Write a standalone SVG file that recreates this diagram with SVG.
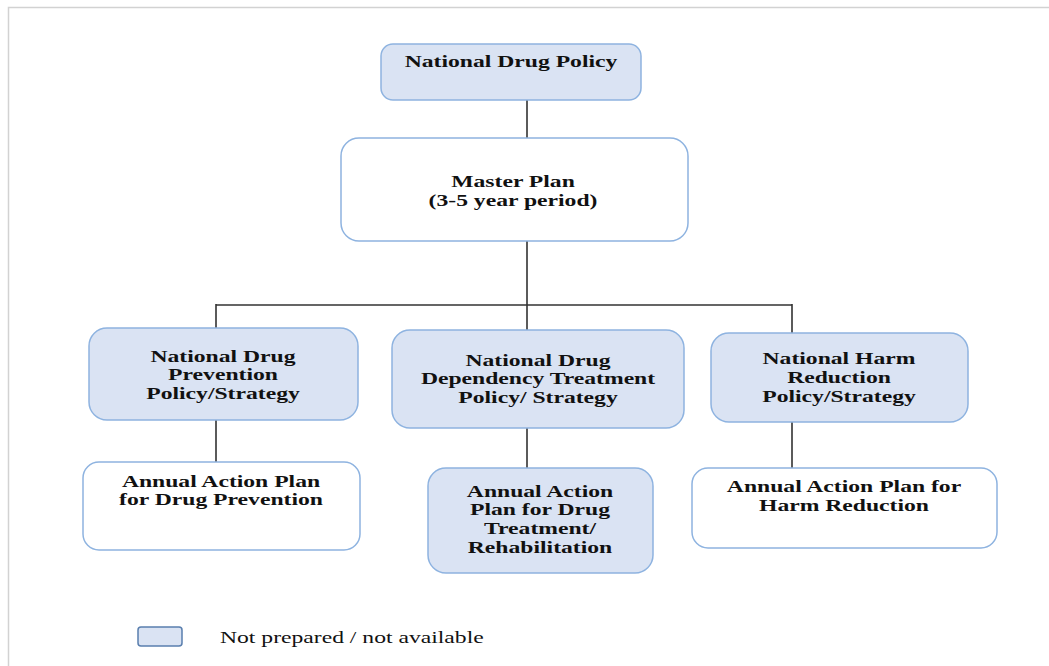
<svg xmlns="http://www.w3.org/2000/svg" width="1049" height="666" viewBox="0 0 1049 666">
<style>
.bl{fill:#dae3f3;stroke:#8eb3e0;stroke-width:1.5}
.wh{fill:#ffffff;stroke:#8eb3e0;stroke-width:1.5}
.t{font-family:"Liberation Serif","Times New Roman",serif;font-size:17px;font-weight:bold;fill:#111;text-anchor:middle}
.lg{font-family:"Liberation Serif","Times New Roman",serif;font-size:17px;fill:#111}
.c{stroke:#333;stroke-width:1.6;fill:none}
.fr{stroke:#d2d2d2;stroke-width:1.5;fill:none}
</style>
<rect width="1049" height="666" fill="#fff"/>
<path class="fr" d="M8.5,666 V7.5 H1049"/>
<g id="connectors">
<path class="c" d="M527,100 V138 M527,241 V330 M216,305 H792 M216,304 V328 M792,304 V333 M216,420 V462 M527,428 V468 M792,422 V468"/>
</g>
<g id="national-drug-policy">
<rect class="bl" x="381" y="44" width="260" height="56" rx="12"/>
<text class="t" transform="translate(511,67) scale(1.39,1)">National Drug Policy</text>
</g>
<g id="master-plan">
<rect class="wh" x="341" y="138" width="347" height="103" rx="18"/>
<text class="t" transform="translate(513,187) scale(1.39,1)"><tspan x="0">Master Plan</tspan><tspan x="0" dy="19.5">(3-5 year period)</tspan></text>
</g>
<g id="prevention-policy">
<rect class="bl" x="89" y="328" width="269" height="92" rx="18"/>
<text class="t" transform="translate(223,362) scale(1.39,1)"><tspan x="0">National Drug</tspan><tspan x="0" dy="18.5">Prevention</tspan><tspan x="0" dy="18.5">Policy/Strategy</tspan></text>
</g>
<g id="treatment-policy">
<rect class="bl" x="392" y="330" width="292" height="98" rx="18"/>
<text class="t" transform="translate(538,366) scale(1.39,1)"><tspan x="0">National Drug</tspan><tspan x="0" dy="18.5">Dependency Treatment</tspan><tspan x="0" dy="18.5">Policy/ Strategy</tspan></text>
</g>
<g id="harm-reduction-policy">
<rect class="bl" x="711" y="333" width="257" height="89" rx="18"/>
<text class="t" transform="translate(839,364) scale(1.39,1)"><tspan x="0">National Harm</tspan><tspan x="0" dy="19">Reduction</tspan><tspan x="0" dy="19">Policy/Strategy</tspan></text>
</g>
<g id="action-plan-prevention">
<rect class="wh" x="83" y="462" width="277" height="88" rx="16"/>
<text class="t" transform="translate(221,487) scale(1.39,1)"><tspan x="0">Annual Action Plan</tspan><tspan x="0" dy="18.5">for Drug Prevention</tspan></text>
</g>
<g id="action-plan-treatment">
<rect class="bl" x="428" y="468" width="225" height="105" rx="18"/>
<text class="t" transform="translate(540,497) scale(1.39,1)"><tspan x="0">Annual Action</tspan><tspan x="0" dy="18.5">Plan for Drug</tspan><tspan x="0" dy="18.5">Treatment/</tspan><tspan x="0" dy="19.5">Rehabilitation</tspan></text>
</g>
<g id="action-plan-harm">
<rect class="wh" x="692" y="468" width="305" height="80" rx="16"/>
<text class="t" transform="translate(844,492) scale(1.39,1)"><tspan x="0">Annual Action Plan for</tspan><tspan x="0" dy="19">Harm Reduction</tspan></text>
</g>
<g id="legend">
<rect class="bl" x="138" y="627" width="44" height="19" rx="3" style="stroke:#5a7fae"/>
<text class="lg" transform="translate(220,643) scale(1.39,1)">Not prepared / not available</text>
</g>
</svg>
